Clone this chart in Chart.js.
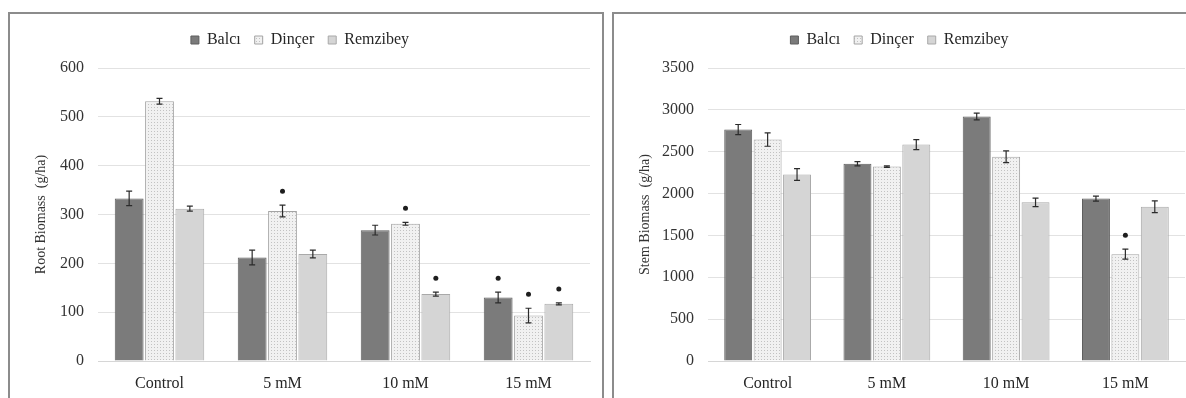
<!DOCTYPE html>
<html>
<head>
<meta charset="utf-8">
<script src="https://cdn.jsdelivr.net/npm/chart.js@4.4.1/dist/chart.umd.min.js"></script>
<style>
  body { margin: 0; background: #fff; width: 1186px; height: 398px; overflow: hidden; position: relative; }
  .panel { position: absolute; border: 2px solid #8c8c8c; box-sizing: border-box; background: #fff; }
  #leftPanel { left: 8px; top: 12px; width: 596px; height: 400px; }
  #rightPanel { left: 612px; top: 12px; width: 580px; height: 400px; }
  canvas { position: absolute; left: 0; top: 0; }
</style>
</head>
<body>
<div class="panel" id="leftPanel"><canvas id="rootChart" width="592" height="384"></canvas></div>
<div class="panel" id="rightPanel"><canvas id="stemChart" width="572" height="384"></canvas></div>
<script>
// Categories and series
const categories = ["Control", "5 mM", "10 mM", "15 mM"];
const seriesNames = ["Balcı", "Dinçer", "Remzibey"];

// Root biomass (g/ha)
const rootBalci = [333, 212, 268, 130];
const rootDincer = [532, 307, 281, 93];
const rootRemzibey = [312, 219, 137, 117];
const rootBalciErr = [15, 15, 10, 11];
const rootDincerErr = [6, 12, 3, 15];
const rootRemzibeyErr = [5, 8, 4, 2];
const rootBalciStar = [false, false, false, true];
const rootDincerStar = [false, true, true, true];
const rootRemzibeyStar = [false, false, true, true];
const rootTicks = [0, 100, 200, 300, 400, 500, 600];

// Stem biomass (g/ha)
const stemBalci = [2765, 2357, 2920, 1940];
const stemDincer = [2645, 2322, 2440, 1276];
const stemRemzibey = [2228, 2585, 1895, 1843];
const stemBalciErr = [60, 25, 40, 30];
const stemDincerErr = [80, 10, 70, 60];
const stemRemzibeyErr = [70, 60, 50, 70];
const stemBalciStar = [false, false, false, false];
const stemDincerStar = [false, false, false, true];
const stemRemzibeyStar = [false, false, false, false];
const stemTicks = [0, 500, 1000, 1500, 2000, 2500, 3000, 3500];

const serif = "'Liberation Serif', 'Times New Roman', serif";

// light dotted fill used for Dinçer
function dotPattern() {
  const c = document.createElement("canvas");
  c.width = 3; c.height = 3;
  const g = c.getContext("2d");
  g.fillStyle = "#f1f1f1";
  g.fillRect(0, 0, 3, 3);
  g.fillStyle = "#c2c2c2";
  g.fillRect(0, 0, 1, 1);
  return g.createPattern(c, "repeat");
}

// draws error bars and significance marks from dataset.err / dataset.star
const errorBarPlugin = {
  id: "errorBars",
  afterDatasetsDraw(chart) {
    const ctx = chart.ctx;
    const y = chart.scales.y;
    chart.data.datasets.forEach((ds, i) => {
      const meta = chart.getDatasetMeta(i);
      meta.data.forEach((bar, j) => {
        const v = ds.data[j], e = ds.err[j];
        const top = y.getPixelForValue(v + e);
        const bot = y.getPixelForValue(v - e);
        ctx.save();
        ctx.strokeStyle = "#2b2b2b";
        ctx.lineWidth = 1.2;
        ctx.beginPath();
        ctx.moveTo(bar.x, top); ctx.lineTo(bar.x, bot);
        ctx.moveTo(bar.x - 3, top); ctx.lineTo(bar.x + 3, top);
        ctx.moveTo(bar.x - 3, bot); ctx.lineTo(bar.x + 3, bot);
        ctx.stroke();
        if (ds.star[j]) {
          ctx.fillStyle = "#1e1e1e";
          ctx.beginPath();
          ctx.arc(bar.x, top - 14, 2.5, 0, Math.PI * 2);
          ctx.fill();
        }
        ctx.restore();
      });
    });
  }
};

// extra space under the legend
const legendGap = {
  id: "legendGap",
  beforeInit(chart) {
    const fit = chart.legend.fit;
    chart.legend.fit = function () {
      fit.call(this);
      this.height += 10;
    };
  }
};

function makeChart(id, vals, errs, stars, ticks, title, yWidth, rightPad) {
  const pattern = dotPattern();
  const fills = ["#7b7b7b", pattern, "#d5d5d5"];
  const borders = ["#5e5e5e", "#a4a4a4", "#a9a9a9"];
  return new Chart(document.getElementById(id), {
    type: "bar",
    data: {
      labels: categories,
      datasets: seriesNames.map((name, k) => ({
        label: name,
        data: vals[k],
        err: errs[k],
        star: stars[k],
        backgroundColor: fills[k],
        borderColor: borders[k],
        borderWidth: 1,
        categoryPercentage: 0.74,
        barPercentage: 0.95
      }))
    },
    options: {
      responsive: false,
      animation: false,
      layout: { padding: { top: 4, right: rightPad, bottom: 0, left: 0 } },
      plugins: {
        tooltip: { enabled: false },
        legend: {
          position: "top",
          labels: {
            font: { family: serif, size: 16 },
            color: "#262626",
            boxWidth: 8,
            boxHeight: 8,
            padding: 14
          }
        }
      },
      scales: {
        x: {
          grid: { display: false, drawTicks: false },
          border: { color: "#d6d6d6" },
          ticks: { font: { family: serif, size: 16 }, color: "#262626", padding: 13 },
          afterFit(s) { s.height = 37; }
        },
        y: {
          min: ticks[0],
          max: ticks[ticks.length - 1],
          afterBuildTicks(s) { s.ticks = ticks.map(v => ({ value: v })); },
          grid: { color: "#e2e2e2", drawTicks: false },
          border: { display: false },
          ticks: { font: { family: serif, size: 16 }, color: "#333", padding: 14, callback: v => String(v) },
          title: { display: true, text: title, font: { family: serif, size: 14 }, color: "#333", padding: { top: 23, bottom: 0 } },
          afterFit(s) { s.width = yWidth; }
        }
      }
    },
    plugins: [errorBarPlugin, legendGap]
  });
}

makeChart("rootChart",
  [rootBalci, rootDincer, rootRemzibey],
  [rootBalciErr, rootDincerErr, rootRemzibeyErr],
  [rootBalciStar, rootDincerStar, rootRemzibeyStar],
  rootTicks, "Root Biomass  (g/ha)", 88, 12);

makeChart("stemChart",
  [stemBalci, stemDincer, stemRemzibey],
  [stemBalciErr, stemDincerErr, stemRemzibeyErr],
  [stemBalciStar, stemDincerStar, stemRemzibeyStar],
  stemTicks, "Stem Biomass  (g/ha)", 94, 1);
</script>
</body>
</html>
